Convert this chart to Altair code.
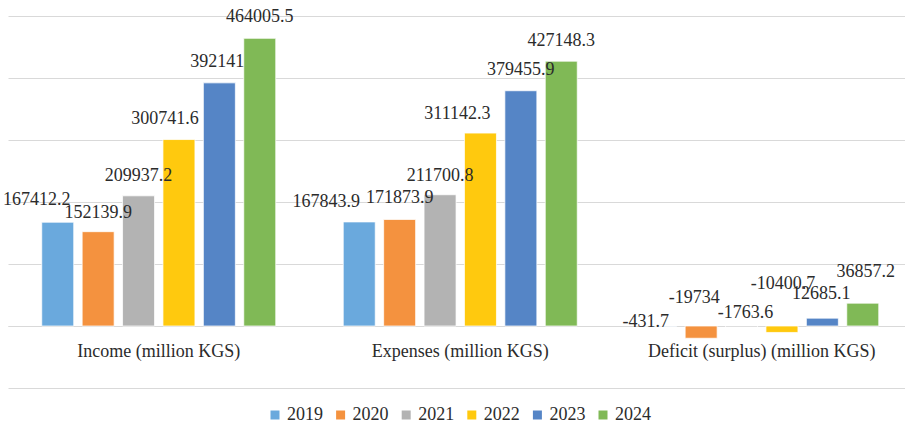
import altair as alt
import pandas as pd

years = ["2019", "2020", "2021", "2022", "2023", "2024"]
categories = ["Income (million KGS)", "Expenses (million KGS)", "Deficit (surplus) (million KGS)"]
income = [167412.2, 152139.9, 209937.2, 300741.6, 392141, 464005.5]
expenses = [167843.9, 171873.9, 211700.8, 311142.3, 379455.9, 427148.3]
deficit = [-431.7, -19734, -1763.6, -10400.7, 12685.1, 36857.2]

colors = ["#6AA9DD", "#F4923F", "#B3B3B3", "#FFC90E", "#5585C6", "#80B956"]

# label nudges (pixels) mimicking the original label placement
label_dx = [[-21, 0, 0, -14, -2, 0], [-33, 0, 0, -23, 0, 0], [-15, -7, 4, 1, -1, 3]]
label_dy = [[-17, -14, -15, -16, -16, -16], [-15, -16, -14, -14, -16, -15], [1, -23, -8, -37, -19, -26]]

FONT = "Liberation Serif"
TEXT = "#2B2B2B"
GRID = "#D9D9D9"
W, H = 897, 372


def fmt(v):
    return str(int(v)) if float(v).is_integer() else str(v)


rows = []
for ci, (cat, vals) in enumerate(zip(categories, [income, expenses, deficit])):
    for yi, (yr, v) in enumerate(zip(years, vals)):
        rows.append(dict(category=cat, year=yr, value=v, label=fmt(v),
                         anchor=max(v, 0), ldx=label_dx[ci][yi], ldy=label_dy[ci][yi]))
df = pd.DataFrame(rows)

x_enc = alt.X("category:N", sort=categories,
              scale=alt.Scale(paddingInner=0, paddingOuter=0, range=[0, 904.5]),
              axis=alt.Axis(title=None, labelAngle=0, offset=-62, domain=True, domainColor=GRID,
                            domainWidth=1, ticks=False, labelPadding=16, labelFont=FONT,
                            labelFontSize=18, labelColor=TEXT, labelLimit=0, grid=False))
xo_enc = alt.XOffset("year:N", sort=years, scale=alt.Scale(paddingInner=0.208, paddingOuter=0.835))
y_scale = alt.Scale(domain=[-100000, 500000], nice=False)
y_axis = alt.Axis(title=None, labels=False, ticks=False, domain=False,
                  values=[-100000, 0, 100000, 200000, 300000, 400000, 500000],
                  gridColor=GRID, gridWidth=1)

base = alt.Chart(df)

bars = base.mark_bar(stroke="white", strokeWidth=0.75).encode(
    x=x_enc,
    xOffset=xo_enc,
    y=alt.Y("value:Q", scale=y_scale, axis=y_axis),
    color=alt.Color("year:N", sort=years, scale=alt.Scale(domain=years, range=colors),
                    legend=alt.Legend(title=None, orient="none", direction="horizontal", columns=6,
                                      legendX=258, legendY=390, symbolType="square", symbolSize=81,
                                      symbolStrokeWidth=0, labelFont=FONT, labelFontSize=18,
                                      labelColor=TEXT, labelOffset=3, columnPadding=8.6)),
)

layers = [bars]
pairs = sorted(set(zip(df["ldx"], df["ldy"])))
for dx, dy in pairs:
    t = base.transform_filter(
        (alt.datum.ldx == int(dx)) & (alt.datum.ldy == int(dy))
    ).mark_text(dx=int(dx), dy=int(dy), font=FONT, fontSize=18, color=TEXT,
                baseline="alphabetic", align="center").encode(
        x=alt.X("category:N", sort=categories),
        xOffset=alt.XOffset("year:N", sort=years),
        y=alt.Y("anchor:Q"),
        text="label:N",
    )
    layers.append(t)

chart = alt.layer(*layers).properties(
    width=W, height=H,
    background="white",
    autosize=alt.AutoSizeParams(type="none"),
    padding={"left": 8, "top": 16, "right": 0, "bottom": 37},
).configure_view(stroke=None)

chart.save("out.html", embed_options={"renderer": "svg", "actions": False})
